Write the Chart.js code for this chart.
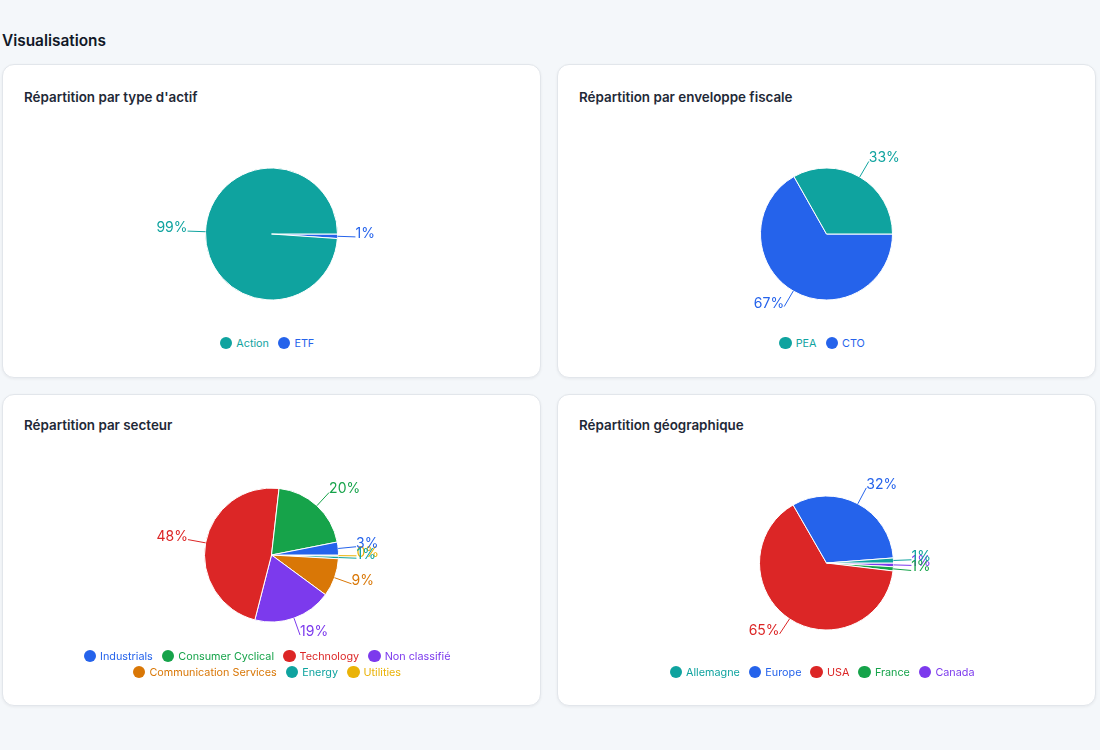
<!DOCTYPE html>
<html lang="fr">
<head>
<meta charset="utf-8">
<title>Visualisations</title>
<script src="https://cdn.jsdelivr.net/npm/chart.js@4.4.1/dist/chart.umd.min.js"></script>
<style>
  body {
    margin: 0;
    width: 1100px;
    height: 750px;
    overflow: hidden;
    position: relative;
    background: #f4f7fa;
    font-family: Inter, "Noto Sans", sans-serif;
  }
  h2 {
    position: absolute;
    left: 2px;
    top: 31px;
    margin: 0;
    font-size: 15.4px;
    line-height: 19px;
    font-weight: 600;
    color: #111827;
  }
  .card {
    position: absolute;
    width: 539px;
    box-sizing: border-box;
    background: #fff;
    border: 1px solid #e2e6eb;
    border-radius: 12px;
    box-shadow: 0 1px 3px rgba(15, 23, 42, 0.06);
  }
  .card h3 {
    position: absolute;
    left: 21px;
    top: 24px;
    margin: 0;
    font-size: 13.4px;
    line-height: 16px;
    font-weight: 600;
    color: #1f2937;
  }
  .card.low h3 {
    top: 22px;
  }
  .card canvas {
    position: absolute;
    left: 0;
  }
  .legend {
    position: absolute;
    left: 24px;
    right: 24px;
    text-align: center;
    font-size: 10.8px;
    line-height: 16px;
  }
  .legend .item {
    display: inline-block;
    margin-right: 9px;
  }
  .legend .dot {
    display: inline-block;
    width: 12.5px;
    height: 12.5px;
    border-radius: 50%;
    margin-right: 4px;
    vertical-align: middle;
    position: relative;
    top: -1px;
  }
</style>
</head>
<body>
<h2>Visualisations</h2>

<div class="card" style="left:2px; top:64px; height:314px;">
  <h3>Répartition par type d'actif</h3>
  <canvas id="typeChart" width="537" height="200" style="top:69px;"></canvas>
  <div class="legend" id="typeLegend" style="bottom:25px;"></div>
</div>

<div class="card" style="left:557px; top:64px; height:314px;">
  <h3>Répartition par enveloppe fiscale</h3>
  <canvas id="envChart" width="537" height="200" style="top:69px;"></canvas>
  <div class="legend" id="envLegend" style="bottom:25px;"></div>
</div>

<div class="card low" style="left:2px; top:394px; height:312px;">
  <h3>Répartition par secteur</h3>
  <canvas id="sectorChart" width="537" height="200" style="top:60px;"></canvas>
  <div class="legend" id="sectorLegend" style="bottom:24px;"></div>
</div>

<div class="card low" style="left:557px; top:394px; height:312px;">
  <h3>Répartition géographique</h3>
  <canvas id="geoChart" width="537" height="200" style="top:68px;"></canvas>
  <div class="legend" id="geoLegend" style="bottom:24px;"></div>
</div>

<script>
'use strict';

var TEAL = '#0fa39f';
var BLUE = '#2563eb';
var RED = '#dc2626';
var GREEN = '#16a34a';
var PURPLE = '#7c3aed';
var ORANGE = '#d97706';
var YELLOW = '#eab308';

// values in % of the portfolio
var typeLabels = ['Action', 'ETF'];
var typeValues = [98.9, 1.1];
var typeColors = [TEAL, BLUE];

var envLabels = ['PEA', 'CTO'];
var envValues = [33.2, 66.8];
var envColors = [TEAL, BLUE];

var sectorLabels = ['Industrials', 'Consumer Cyclical', 'Technology', 'Non classifié', 'Communication Services', 'Energy', 'Utilities'];
var sectorValues = [3.1, 20.1, 47.8, 18.9, 9.2, 0.6, 0.3];
var sectorColors = [BLUE, GREEN, RED, PURPLE, ORANGE, TEAL, YELLOW];

var geoLabels = ['Allemagne', 'Europe', 'USA', 'France', 'Canada'];
var geoValues = [1.2, 32.1, 64.8, 1.0, 0.9];
var geoColors = [TEAL, BLUE, RED, GREEN, PURPLE];

// outside labels with a small leader line, like the original dashboard
var outLabels = {
  id: 'outLabels',
  afterDatasetsDraw: function (chart) {
    var ctx = chart.ctx;
    var meta = chart.getDatasetMeta(0);
    var values = chart.data.datasets[0].data;
    var colors = chart.data.datasets[0].backgroundColor;
    var total = values.reduce(function (a, b) { return a + b; }, 0);
    ctx.save();
    ctx.font = '14px Inter, "Noto Sans", sans-serif';
    ctx.textBaseline = 'alphabetic';
    meta.data.forEach(function (arc, i) {
      var p = arc.getProps(['x', 'y', 'startAngle', 'endAngle', 'outerRadius'], true);
      var mid = (p.startAngle + p.endAngle) / 2;
      var cos = Math.cos(mid);
      var sin = Math.sin(mid);
      var x1 = p.x + p.outerRadius * cos;
      var y1 = p.y + p.outerRadius * sin;
      var x2 = p.x + (p.outerRadius + 18) * cos;
      var y2 = p.y + (p.outerRadius + 18) * sin;
      ctx.strokeStyle = colors[i];
      ctx.lineWidth = 1;
      ctx.beginPath();
      ctx.moveTo(x1, y1);
      ctx.lineTo(x2, y2);
      ctx.stroke();
      ctx.fillStyle = colors[i];
      ctx.textAlign = x2 > p.x + 0.5 ? 'left' : (x2 < p.x - 0.5 ? 'right' : 'center');
      ctx.fillText(Math.round(values[i] / total * 100) + '%', x2, y2 + 1);
    });
    ctx.restore();
  }
};

function reversed(arr) {
  return arr.slice().reverse();
}

function makeLegend(id, labels, colors) {
  var el = document.getElementById(id);
  var html = '';
  labels.forEach(function (label, i) {
    html += '<span class="item" style="color:' + colors[i] + '">' +
      '<span class="dot" style="background:' + colors[i] + '"></span>' + label + '</span>';
  });
  el.innerHTML = html;
}

// the original goes counter-clockwise from 3 o'clock,
// so the data is reversed and started at 90 degrees
function makePie(id, labels, values, colors, radius) {
  return new Chart(document.getElementById(id), {
    type: 'pie',
    data: {
      labels: reversed(labels),
      datasets: [{
        data: reversed(values),
        backgroundColor: reversed(colors),
        borderColor: '#ffffff',
        borderWidth: 1,
        radius: radius,
        rotation: 90
      }]
    },
    options: {
      responsive: false,
      animation: false,
      layout: { padding: 0 },
      plugins: {
        legend: { display: false },
        tooltip: { enabled: false }
      }
    },
    plugins: [outLabels]
  });
}

makePie('typeChart', typeLabels, typeValues, typeColors, 66);
makePie('envChart', envLabels, envValues, envColors, 66);
makePie('sectorChart', sectorLabels, sectorValues, sectorColors, 67);
makePie('geoChart', geoLabels, geoValues, geoColors, 67);

makeLegend('typeLegend', typeLabels, typeColors);
makeLegend('envLegend', envLabels, envColors);
makeLegend('sectorLegend', sectorLabels, sectorColors);
makeLegend('geoLegend', geoLabels, geoColors);
</script>
</body>
</html>
